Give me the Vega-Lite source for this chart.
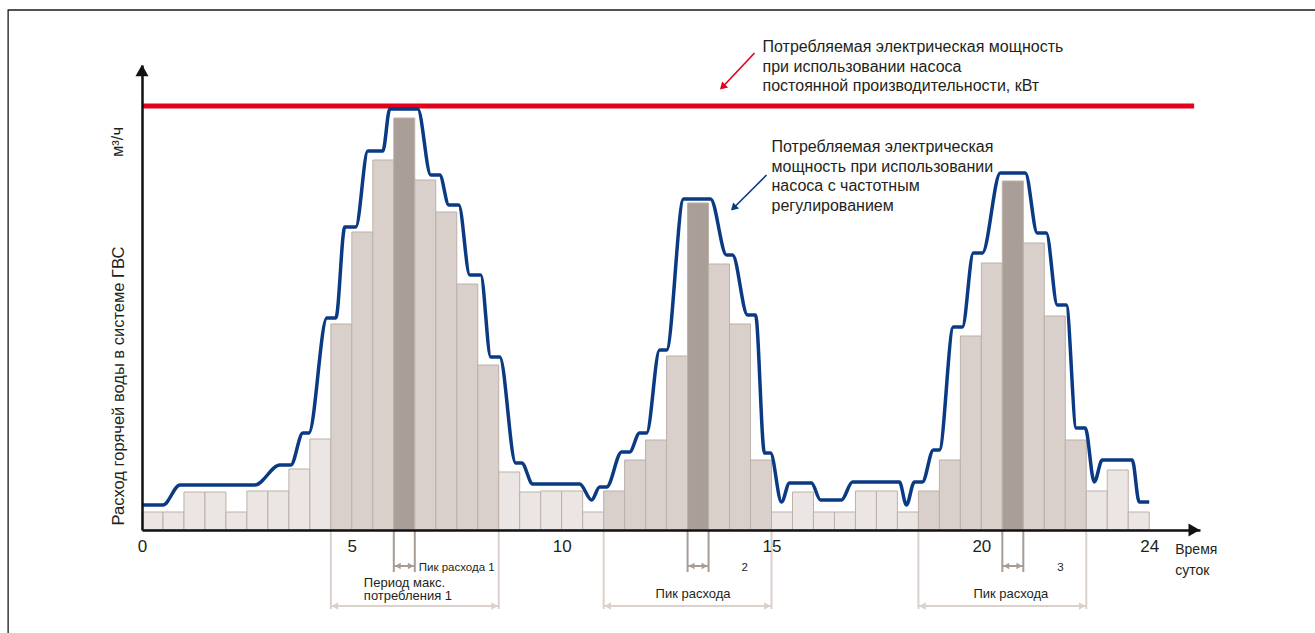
{
  "$schema": "https://vega.github.io/schema/vega-lite/v6.json",
  "width": 1058,
  "height": 465,
  "autosize": {"type": "none"},
  "padding": {"left": 142, "top": 65, "right": 115, "bottom": 103},
  "background": "white",
  "config": {"font": "Liberation Sans", "view": {"stroke": null}, "axis": {"grid": false}},
  "resolve": {"scale": {"color": "independent", "size": "independent", "shape": "independent"}},
  "datasets": {
    "frame": [{"left": -3.19, "right": 30, "top": 52.0, "bottom": -20}],
    "bars": [
      {"start": 0.0, "end": 0.5, "flow": 1.8, "phase": "off-peak"},
      {"start": 0.5, "end": 1.0, "flow": 1.8, "phase": "off-peak"},
      {"start": 1.0, "end": 1.5, "flow": 3.8, "phase": "off-peak"},
      {"start": 1.5, "end": 2.0, "flow": 3.8, "phase": "off-peak"},
      {"start": 2.0, "end": 2.5, "flow": 1.8, "phase": "off-peak"},
      {"start": 2.5, "end": 3.0, "flow": 3.9, "phase": "off-peak"},
      {"start": 3.0, "end": 3.5, "flow": 3.9, "phase": "off-peak"},
      {"start": 3.5, "end": 4.0, "flow": 6.1, "phase": "off-peak"},
      {"start": 4.0, "end": 4.5, "flow": 9.1, "phase": "off-peak"},
      {"start": 4.5, "end": 5.0, "flow": 20.6, "phase": "high"},
      {"start": 5.0, "end": 5.5, "flow": 29.8, "phase": "high"},
      {"start": 5.5, "end": 6.0, "flow": 37.0, "phase": "high"},
      {"start": 6.0, "end": 6.5, "flow": 41.2, "phase": "peak"},
      {"start": 6.5, "end": 7.0, "flow": 35.0, "phase": "high"},
      {"start": 7.0, "end": 7.5, "flow": 31.8, "phase": "high"},
      {"start": 7.5, "end": 8.0, "flow": 24.6, "phase": "high"},
      {"start": 8.0, "end": 8.5, "flow": 16.5, "phase": "high"},
      {"start": 8.5, "end": 9.0, "flow": 5.8, "phase": "off-peak"},
      {"start": 9.0, "end": 9.5, "flow": 3.8, "phase": "off-peak"},
      {"start": 9.5, "end": 10.0, "flow": 3.9, "phase": "off-peak"},
      {"start": 10.0, "end": 10.5, "flow": 3.9, "phase": "off-peak"},
      {"start": 10.5, "end": 11.0, "flow": 1.8, "phase": "off-peak"},
      {"start": 11.0, "end": 11.5, "flow": 3.9, "phase": "high"},
      {"start": 11.5, "end": 12.0, "flow": 7.0, "phase": "high"},
      {"start": 12.0, "end": 12.5, "flow": 9.0, "phase": "high"},
      {"start": 12.5, "end": 13.0, "flow": 17.4, "phase": "high"},
      {"start": 13.0, "end": 13.5, "flow": 32.7, "phase": "peak"},
      {"start": 13.5, "end": 14.0, "flow": 26.6, "phase": "high"},
      {"start": 14.0, "end": 14.5, "flow": 20.6, "phase": "high"},
      {"start": 14.5, "end": 15.0, "flow": 7.0, "phase": "high"},
      {"start": 15.0, "end": 15.5, "flow": 1.8, "phase": "off-peak"},
      {"start": 15.5, "end": 16.0, "flow": 3.8, "phase": "off-peak"},
      {"start": 16.0, "end": 16.5, "flow": 1.8, "phase": "off-peak"},
      {"start": 16.5, "end": 17.0, "flow": 1.8, "phase": "off-peak"},
      {"start": 17.0, "end": 17.5, "flow": 3.9, "phase": "off-peak"},
      {"start": 17.5, "end": 18.0, "flow": 3.9, "phase": "off-peak"},
      {"start": 18.0, "end": 18.5, "flow": 1.8, "phase": "off-peak"},
      {"start": 18.5, "end": 19.0, "flow": 3.9, "phase": "high"},
      {"start": 19.0, "end": 19.5, "flow": 7.0, "phase": "high"},
      {"start": 19.5, "end": 20.0, "flow": 19.4, "phase": "high"},
      {"start": 20.0, "end": 20.5, "flow": 26.7, "phase": "high"},
      {"start": 20.5, "end": 21.0, "flow": 34.9, "phase": "peak"},
      {"start": 21.0, "end": 21.5, "flow": 28.7, "phase": "high"},
      {"start": 21.5, "end": 22.0, "flow": 21.4, "phase": "high"},
      {"start": 22.0, "end": 22.5, "flow": 9.0, "phase": "high"},
      {"start": 22.5, "end": 23.0, "flow": 3.9, "phase": "off-peak"},
      {"start": 23.0, "end": 23.5, "flow": 6.0, "phase": "off-peak"},
      {"start": 23.5, "end": 24.0, "flow": 1.8, "phase": "off-peak"}
    ],
    "constant": [{"level": 42.4, "from": 0, "to": 25.07}],
    "vfd": [
      {"hour": 0.0, "power": 2.5}, {"hour": 0.5, "power": 2.5},
      {"hour": 0.905, "power": 4.5}, {"hour": 2.69, "power": 4.5},
      {"hour": 3.286, "power": 6.5}, {"hour": 3.548, "power": 6.5},
      {"hour": 3.833, "power": 9.7}, {"hour": 3.976, "power": 9.7},
      {"hour": 4.405, "power": 21.2}, {"hour": 4.619, "power": 21.2},
      {"hour": 4.833, "power": 30.3}, {"hour": 5.095, "power": 30.3},
      {"hour": 5.381, "power": 37.9}, {"hour": 5.738, "power": 37.9},
      {"hour": 5.905, "power": 42.1}, {"hour": 6.571, "power": 42.1},
      {"hour": 6.881, "power": 35.5}, {"hour": 7.095, "power": 35.5},
      {"hour": 7.31, "power": 32.5}, {"hour": 7.548, "power": 32.5},
      {"hour": 7.81, "power": 25.5}, {"hour": 8.071, "power": 25.5},
      {"hour": 8.31, "power": 17.3}, {"hour": 8.524, "power": 17.3},
      {"hour": 8.905, "power": 6.7}, {"hour": 9.048, "power": 6.7},
      {"hour": 9.31, "power": 4.6}, {"hour": 10.429, "power": 4.6},
      {"hour": 10.714, "power": 3.0},
      {"hour": 10.905, "power": 4.3}, {"hour": 11.071, "power": 4.3},
      {"hour": 11.429, "power": 7.8}, {"hour": 11.619, "power": 7.8},
      {"hour": 11.857, "power": 9.7}, {"hour": 12.024, "power": 9.7},
      {"hour": 12.333, "power": 18.0}, {"hour": 12.5, "power": 18.0},
      {"hour": 12.905, "power": 33.1}, {"hour": 13.548, "power": 33.1},
      {"hour": 13.929, "power": 27.5}, {"hour": 14.071, "power": 27.5},
      {"hour": 14.429, "power": 21.5}, {"hour": 14.619, "power": 21.5},
      {"hour": 14.833, "power": 7.7}, {"hour": 14.976, "power": 7.7},
      {"hour": 15.238, "power": 2.8},
      {"hour": 15.429, "power": 4.7}, {"hour": 15.952, "power": 4.7},
      {"hour": 16.167, "power": 3.0}, {"hour": 16.667, "power": 3.0},
      {"hour": 16.929, "power": 4.8}, {"hour": 18.048, "power": 4.8},
      {"hour": 18.214, "power": 2.5},
      {"hour": 18.405, "power": 4.8}, {"hour": 18.595, "power": 4.8},
      {"hour": 18.857, "power": 8.0}, {"hour": 19.0, "power": 8.0},
      {"hour": 19.333, "power": 20.3}, {"hour": 19.548, "power": 20.3},
      {"hour": 19.81, "power": 27.7}, {"hour": 20.024, "power": 27.7},
      {"hour": 20.452, "power": 35.7}, {"hour": 21.048, "power": 35.7},
      {"hour": 21.333, "power": 29.7}, {"hour": 21.548, "power": 29.7},
      {"hour": 21.81, "power": 22.5}, {"hour": 22.024, "power": 22.5},
      {"hour": 22.262, "power": 10.2}, {"hour": 22.476, "power": 10.2},
      {"hour": 22.69, "power": 4.8},
      {"hour": 22.881, "power": 7.0}, {"hour": 23.595, "power": 7.0},
      {"hour": 23.762, "power": 2.8}, {"hour": 24.0, "power": 2.8}
    ],
    "brackets": [
      {"at": 6.0, "kind": "peak", "depth": -4.2},
      {"at": 6.5, "kind": "peak", "depth": -4.2},
      {"at": 13.0, "kind": "peak", "depth": -4.2},
      {"at": 13.5, "kind": "peak", "depth": -4.2},
      {"at": 20.5, "kind": "peak", "depth": -4.2},
      {"at": 21.0, "kind": "peak", "depth": -4.2},
      {"at": 4.5, "kind": "period", "depth": -7.9},
      {"at": 8.5, "kind": "period", "depth": -7.9},
      {"at": 11.0, "kind": "period", "depth": -7.9},
      {"at": 15.0, "kind": "period", "depth": -7.9},
      {"at": 18.5, "kind": "period", "depth": -7.9},
      {"at": 22.5, "kind": "period", "depth": -7.9}
    ],
    "spans": [
      {"from": 6.0, "to": 6.5, "kind": "peak", "level": -3.6},
      {"from": 13.0, "to": 13.5, "kind": "peak", "level": -3.6},
      {"from": 20.5, "to": 21.0, "kind": "peak", "level": -3.6},
      {"from": 4.5, "to": 8.5, "kind": "period", "level": -7.6},
      {"from": 11.0, "to": 15.0, "kind": "period", "level": -7.6},
      {"from": 18.5, "to": 22.5, "kind": "period", "level": -7.6}
    ],
    "callouts": [
      {"series": "constant", "x1": 14.595, "y1": 47.7, "x2": 13.833, "y2": 44.3},
      {"series": "vfd", "x1": 14.881, "y1": 35.5, "x2": 14.095, "y2": 32.2}
    ],
    "notes": [
      {"kind": "callout", "x": 14.786, "y": 48.3, "text": "Потребляемая электрическая мощность"},
      {"kind": "callout", "x": 14.786, "y": 46.35, "text": "при использовании насоса"},
      {"kind": "callout", "x": 14.786, "y": 44.4, "text": "постоянной производительности, кВт"},
      {"kind": "callout", "x": 15.0, "y": 38.3, "text": "Потребляемая электрическая"},
      {"kind": "callout", "x": 15.0, "y": 36.35, "text": "мощность при использовании"},
      {"kind": "callout", "x": 15.0, "y": 34.4, "text": "насоса с частотным"},
      {"kind": "callout", "x": 15.0, "y": 32.45, "text": "регулированием"},
      {"kind": "note", "x": 5.286, "y": -5.3, "text": "Период макс."},
      {"kind": "note", "x": 5.286, "y": -6.6, "text": "потребления 1"},
      {"kind": "note", "x": 12.238, "y": -6.4, "text": "Пик расхода"},
      {"kind": "note", "x": 19.81, "y": -6.4, "text": "Пик расхода"},
      {"kind": "small", "x": 6.595, "y": -3.8, "text": "Пик расхода 1"},
      {"kind": "small", "x": 14.286, "y": -3.8, "text": "2"},
      {"kind": "small", "x": 21.81, "y": -3.8, "text": "3"},
      {"kind": "axisnote", "x": 24.62, "y": -2.0, "text": "Время"},
      {"kind": "axisnote", "x": 24.62, "y": -4.1, "text": "суток"},
      {"kind": "vertical", "x": -0.548, "y": 14.4, "text": "Расход горячей воды  в системе ГВС"},
      {"kind": "vertical", "x": -0.571, "y": 38.8, "text": "м³/ч"}
    ],
    "arrows": [
      {"x": 0, "y": 45.95, "dir": "up"},
      {"x": 25.07, "y": 0, "dir": "right"}
    ]
  },
  "layer": [
    {
      "data": {"name": "bars"},
      "mark": {"type": "rect", "stroke": "#BCB0A8", "strokeWidth": 1},
      "encoding": {
        "x": {"field": "start", "type": "quantitative", "scale": {"domain": [0, 25.21], "nice": false, "zero": false},
          "axis": {"values": [0, 5, 10, 15, 20, 24], "title": null, "ticks": false, "grid": false, "domainColor": "#111111", "domainWidth": 2.5, "labelFontSize": 17, "labelColor": "#231F20", "labelPadding": 8, "labelFlush": false, "labelOverlap": false, "labelBound": false, "zindex": 1, "format": "d"}},
        "x2": {"field": "end"},
        "y": {"field": "flow", "type": "quantitative", "scale": {"domain": [0, 46.5], "nice": false, "zero": false},
          "axis": {"title": null, "labels": false, "ticks": false, "grid": false, "domainColor": "#111111", "domainWidth": 2.5, "zindex": 1}},
        "y2": {"datum": 0},
        "color": {"field": "phase", "type": "nominal", "scale": {"domain": ["off-peak", "high", "peak"], "range": ["#EBE6E3", "#D9D0CB", "#A99F98"]}, "legend": null}
      }
    },
    {
      "data": {"name": "frame"},
      "mark": {"type": "rect", "filled": false, "fill": null, "stroke": "#1a1a1a", "strokeWidth": 1.3},
      "encoding": {
        "x": {"field": "left", "type": "quantitative", "scale": {"domain": [0, 25.21], "nice": false, "zero": false}, "axis": {"values": [0, 5, 10, 15, 20, 24], "title": null, "ticks": false, "grid": false, "domainColor": "#111111", "domainWidth": 2.5, "labelFontSize": 17, "labelColor": "#231F20", "labelPadding": 8, "labelFlush": false, "labelOverlap": false, "labelBound": false, "zindex": 1, "format": "d"}},
        "x2": {"field": "right"},
        "y": {"field": "top", "type": "quantitative", "scale": {"domain": [0, 46.5], "nice": false, "zero": false}, "axis": {"title": null, "labels": false, "ticks": false, "grid": false, "domainColor": "#111111", "domainWidth": 2.5, "zindex": 1}},
        "y2": {"field": "bottom"}
      }
    },
    {
      "data": {"name": "constant"},
      "mark": {"type": "rule", "color": "#E2001A", "strokeWidth": 5},
      "encoding": {
        "x": {"field": "from", "type": "quantitative", "scale": {"domain": [0, 25.21], "nice": false, "zero": false}, "axis": {"values": [0, 5, 10, 15, 20, 24], "title": null, "ticks": false, "grid": false, "domainColor": "#111111", "domainWidth": 2.5, "labelFontSize": 17, "labelColor": "#231F20", "labelPadding": 8, "labelFlush": false, "labelOverlap": false, "labelBound": false, "zindex": 1, "format": "d"}},
        "x2": {"field": "to"},
        "y": {"field": "level", "type": "quantitative", "scale": {"domain": [0, 46.5], "nice": false, "zero": false}, "axis": {"title": null, "labels": false, "ticks": false, "grid": false, "domainColor": "#111111", "domainWidth": 2.5, "zindex": 1}}
      }
    },
    {
      "data": {"name": "vfd"},
      "mark": {"type": "line", "interpolate": "monotone", "color": "#0B3A84", "strokeWidth": 3.5},
      "encoding": {
        "x": {"field": "hour", "type": "quantitative", "scale": {"domain": [0, 25.21], "nice": false, "zero": false}, "axis": {"values": [0, 5, 10, 15, 20, 24], "title": null, "ticks": false, "grid": false, "domainColor": "#111111", "domainWidth": 2.5, "labelFontSize": 17, "labelColor": "#231F20", "labelPadding": 8, "labelFlush": false, "labelOverlap": false, "labelBound": false, "zindex": 1, "format": "d"}},
        "y": {"field": "power", "type": "quantitative", "scale": {"domain": [0, 46.5], "nice": false, "zero": false}, "axis": {"title": null, "labels": false, "ticks": false, "grid": false, "domainColor": "#111111", "domainWidth": 2.5, "zindex": 1}}
      }
    },
    {
      "data": {"name": "brackets"},
      "mark": {"type": "rule", "strokeWidth": 2},
      "encoding": {
        "x": {"field": "at", "type": "quantitative", "scale": {"domain": [0, 25.21], "nice": false, "zero": false}, "axis": {"values": [0, 5, 10, 15, 20, 24], "title": null, "ticks": false, "grid": false, "domainColor": "#111111", "domainWidth": 2.5, "labelFontSize": 17, "labelColor": "#231F20", "labelPadding": 8, "labelFlush": false, "labelOverlap": false, "labelBound": false, "zindex": 1, "format": "d"}},
        "y": {"field": "depth", "type": "quantitative", "scale": {"domain": [0, 46.5], "nice": false, "zero": false}, "axis": {"title": null, "labels": false, "ticks": false, "grid": false, "domainColor": "#111111", "domainWidth": 2.5, "zindex": 1}},
        "y2": {"datum": 0},
        "color": {"field": "kind", "type": "nominal", "scale": {"domain": ["peak", "period"], "range": ["#A89D95", "#DAD1CC"]}, "legend": null}
      }
    },
    {
      "data": {"name": "spans"},
      "mark": {"type": "rule", "strokeWidth": 2},
      "encoding": {
        "x": {"field": "from", "type": "quantitative", "scale": {"domain": [0, 25.21], "nice": false, "zero": false}, "axis": {"values": [0, 5, 10, 15, 20, 24], "title": null, "ticks": false, "grid": false, "domainColor": "#111111", "domainWidth": 2.5, "labelFontSize": 17, "labelColor": "#231F20", "labelPadding": 8, "labelFlush": false, "labelOverlap": false, "labelBound": false, "zindex": 1, "format": "d"}},
        "x2": {"field": "to"},
        "y": {"field": "level", "type": "quantitative", "scale": {"domain": [0, 46.5], "nice": false, "zero": false}, "axis": {"title": null, "labels": false, "ticks": false, "grid": false, "domainColor": "#111111", "domainWidth": 2.5, "zindex": 1}},
        "color": {"field": "kind", "type": "nominal", "scale": {"domain": ["peak", "period"], "range": ["#A89D95", "#DAD1CC"]}, "legend": null}
      }
    },
    {
      "data": {"name": "spans"},
      "mark": {"type": "point", "shape": "triangle-left", "filled": true, "opacity": 1, "xOffset": 4},
      "encoding": {
        "x": {"field": "from", "type": "quantitative", "scale": {"domain": [0, 25.21], "nice": false, "zero": false}, "axis": {"values": [0, 5, 10, 15, 20, 24], "title": null, "ticks": false, "grid": false, "domainColor": "#111111", "domainWidth": 2.5, "labelFontSize": 17, "labelColor": "#231F20", "labelPadding": 8, "labelFlush": false, "labelOverlap": false, "labelBound": false, "zindex": 1, "format": "d"}},
        "y": {"field": "level", "type": "quantitative", "scale": {"domain": [0, 46.5], "nice": false, "zero": false}, "axis": {"title": null, "labels": false, "ticks": false, "grid": false, "domainColor": "#111111", "domainWidth": 2.5, "zindex": 1}},
        "size": {"field": "kind", "type": "nominal", "scale": {"domain": ["peak", "period"], "range": [45, 60]}, "legend": null},
        "color": {"field": "kind", "type": "nominal", "scale": {"domain": ["peak", "period"], "range": ["#A89D95", "#DAD1CC"]}, "legend": null}
      }
    },
    {
      "data": {"name": "spans"},
      "mark": {"type": "point", "shape": "triangle-right", "filled": true, "opacity": 1, "xOffset": -4},
      "encoding": {
        "x": {"field": "to", "type": "quantitative", "scale": {"domain": [0, 25.21], "nice": false, "zero": false}, "axis": {"values": [0, 5, 10, 15, 20, 24], "title": null, "ticks": false, "grid": false, "domainColor": "#111111", "domainWidth": 2.5, "labelFontSize": 17, "labelColor": "#231F20", "labelPadding": 8, "labelFlush": false, "labelOverlap": false, "labelBound": false, "zindex": 1, "format": "d"}},
        "y": {"field": "level", "type": "quantitative", "scale": {"domain": [0, 46.5], "nice": false, "zero": false}, "axis": {"title": null, "labels": false, "ticks": false, "grid": false, "domainColor": "#111111", "domainWidth": 2.5, "zindex": 1}},
        "size": {"field": "kind", "type": "nominal", "scale": {"domain": ["peak", "period"], "range": [45, 60]}, "legend": null},
        "color": {"field": "kind", "type": "nominal", "scale": {"domain": ["peak", "period"], "range": ["#A89D95", "#DAD1CC"]}, "legend": null}
      }
    },
    {
      "data": {"name": "callouts"},
      "mark": {"type": "rule", "strokeWidth": 1.6},
      "encoding": {
        "x": {"field": "x1", "type": "quantitative", "scale": {"domain": [0, 25.21], "nice": false, "zero": false}, "axis": {"values": [0, 5, 10, 15, 20, 24], "title": null, "ticks": false, "grid": false, "domainColor": "#111111", "domainWidth": 2.5, "labelFontSize": 17, "labelColor": "#231F20", "labelPadding": 8, "labelFlush": false, "labelOverlap": false, "labelBound": false, "zindex": 1, "format": "d"}},
        "x2": {"field": "x2"},
        "y": {"field": "y1", "type": "quantitative", "scale": {"domain": [0, 46.5], "nice": false, "zero": false}, "axis": {"title": null, "labels": false, "ticks": false, "grid": false, "domainColor": "#111111", "domainWidth": 2.5, "zindex": 1}},
        "y2": {"field": "y2"},
        "color": {"field": "series", "type": "nominal", "scale": {"domain": ["constant", "vfd"], "range": ["#E2001A", "#0B3A84"]}, "legend": null}
      }
    },
    {
      "data": {"name": "callouts"},
      "mark": {"type": "point", "shape": "triangle-up", "filled": true, "opacity": 1, "angle": 225, "size": 70},
      "encoding": {
        "x": {"field": "x2", "type": "quantitative", "scale": {"domain": [0, 25.21], "nice": false, "zero": false}, "axis": {"values": [0, 5, 10, 15, 20, 24], "title": null, "ticks": false, "grid": false, "domainColor": "#111111", "domainWidth": 2.5, "labelFontSize": 17, "labelColor": "#231F20", "labelPadding": 8, "labelFlush": false, "labelOverlap": false, "labelBound": false, "zindex": 1, "format": "d"}},
        "y": {"field": "y2", "type": "quantitative", "scale": {"domain": [0, 46.5], "nice": false, "zero": false}, "axis": {"title": null, "labels": false, "ticks": false, "grid": false, "domainColor": "#111111", "domainWidth": 2.5, "zindex": 1}},
        "color": {"field": "series", "type": "nominal", "scale": {"domain": ["constant", "vfd"], "range": ["#E2001A", "#0B3A84"]}, "legend": null}
      }
    },
    {
      "data": {"name": "notes"},
      "transform": [{"filter": "datum.kind === 'callout'"}],
      "mark": {"type": "text", "align": "left", "baseline": "middle", "fontSize": 16, "color": "#231F20"},
      "encoding": {
        "x": {"field": "x", "type": "quantitative", "scale": {"domain": [0, 25.21], "nice": false, "zero": false}, "axis": {"values": [0, 5, 10, 15, 20, 24], "title": null, "ticks": false, "grid": false, "domainColor": "#111111", "domainWidth": 2.5, "labelFontSize": 17, "labelColor": "#231F20", "labelPadding": 8, "labelFlush": false, "labelOverlap": false, "labelBound": false, "zindex": 1, "format": "d"}},
        "y": {"field": "y", "type": "quantitative", "scale": {"domain": [0, 46.5], "nice": false, "zero": false}, "axis": {"title": null, "labels": false, "ticks": false, "grid": false, "domainColor": "#111111", "domainWidth": 2.5, "zindex": 1}},
        "text": {"field": "text"}
      }
    },
    {
      "data": {"name": "notes"},
      "transform": [{"filter": "datum.kind === 'note'"}],
      "mark": {"type": "text", "align": "left", "baseline": "middle", "fontSize": 13, "color": "#231F20"},
      "encoding": {
        "x": {"field": "x", "type": "quantitative", "scale": {"domain": [0, 25.21], "nice": false, "zero": false}, "axis": {"values": [0, 5, 10, 15, 20, 24], "title": null, "ticks": false, "grid": false, "domainColor": "#111111", "domainWidth": 2.5, "labelFontSize": 17, "labelColor": "#231F20", "labelPadding": 8, "labelFlush": false, "labelOverlap": false, "labelBound": false, "zindex": 1, "format": "d"}},
        "y": {"field": "y", "type": "quantitative", "scale": {"domain": [0, 46.5], "nice": false, "zero": false}, "axis": {"title": null, "labels": false, "ticks": false, "grid": false, "domainColor": "#111111", "domainWidth": 2.5, "zindex": 1}},
        "text": {"field": "text"}
      }
    },
    {
      "data": {"name": "notes"},
      "transform": [{"filter": "datum.kind === 'small'"}],
      "mark": {"type": "text", "align": "left", "baseline": "middle", "fontSize": 11.5, "color": "#231F20"},
      "encoding": {
        "x": {"field": "x", "type": "quantitative", "scale": {"domain": [0, 25.21], "nice": false, "zero": false}, "axis": {"values": [0, 5, 10, 15, 20, 24], "title": null, "ticks": false, "grid": false, "domainColor": "#111111", "domainWidth": 2.5, "labelFontSize": 17, "labelColor": "#231F20", "labelPadding": 8, "labelFlush": false, "labelOverlap": false, "labelBound": false, "zindex": 1, "format": "d"}},
        "y": {"field": "y", "type": "quantitative", "scale": {"domain": [0, 46.5], "nice": false, "zero": false}, "axis": {"title": null, "labels": false, "ticks": false, "grid": false, "domainColor": "#111111", "domainWidth": 2.5, "zindex": 1}},
        "text": {"field": "text"}
      }
    },
    {
      "data": {"name": "notes"},
      "transform": [{"filter": "datum.kind === 'axisnote'"}],
      "mark": {"type": "text", "align": "left", "baseline": "middle", "fontSize": 14, "color": "#231F20"},
      "encoding": {
        "x": {"field": "x", "type": "quantitative", "scale": {"domain": [0, 25.21], "nice": false, "zero": false}, "axis": {"values": [0, 5, 10, 15, 20, 24], "title": null, "ticks": false, "grid": false, "domainColor": "#111111", "domainWidth": 2.5, "labelFontSize": 17, "labelColor": "#231F20", "labelPadding": 8, "labelFlush": false, "labelOverlap": false, "labelBound": false, "zindex": 1, "format": "d"}},
        "y": {"field": "y", "type": "quantitative", "scale": {"domain": [0, 46.5], "nice": false, "zero": false}, "axis": {"title": null, "labels": false, "ticks": false, "grid": false, "domainColor": "#111111", "domainWidth": 2.5, "zindex": 1}},
        "text": {"field": "text"}
      }
    },
    {
      "data": {"name": "notes"},
      "transform": [{"filter": "datum.kind === 'vertical'"}],
      "mark": {"type": "text", "align": "center", "baseline": "middle", "fontSize": 16.5, "angle": 270, "color": "#231F20"},
      "encoding": {
        "x": {"field": "x", "type": "quantitative", "scale": {"domain": [0, 25.21], "nice": false, "zero": false}, "axis": {"values": [0, 5, 10, 15, 20, 24], "title": null, "ticks": false, "grid": false, "domainColor": "#111111", "domainWidth": 2.5, "labelFontSize": 17, "labelColor": "#231F20", "labelPadding": 8, "labelFlush": false, "labelOverlap": false, "labelBound": false, "zindex": 1, "format": "d"}},
        "y": {"field": "y", "type": "quantitative", "scale": {"domain": [0, 46.5], "nice": false, "zero": false}, "axis": {"title": null, "labels": false, "ticks": false, "grid": false, "domainColor": "#111111", "domainWidth": 2.5, "zindex": 1}},
        "text": {"field": "text"}
      }
    },
    {
      "data": {"name": "arrows"},
      "mark": {"type": "point", "filled": true, "opacity": 1, "color": "#111111", "size": 170},
      "encoding": {
        "x": {"field": "x", "type": "quantitative", "scale": {"domain": [0, 25.21], "nice": false, "zero": false}, "axis": {"values": [0, 5, 10, 15, 20, 24], "title": null, "ticks": false, "grid": false, "domainColor": "#111111", "domainWidth": 2.5, "labelFontSize": 17, "labelColor": "#231F20", "labelPadding": 8, "labelFlush": false, "labelOverlap": false, "labelBound": false, "zindex": 1, "format": "d"}},
        "y": {"field": "y", "type": "quantitative", "scale": {"domain": [0, 46.5], "nice": false, "zero": false}, "axis": {"title": null, "labels": false, "ticks": false, "grid": false, "domainColor": "#111111", "domainWidth": 2.5, "zindex": 1}},
        "shape": {"field": "dir", "type": "nominal", "scale": {"domain": ["up", "right"], "range": ["triangle-up", "triangle-right"]}, "legend": null}
      }
    }
  ]
}
